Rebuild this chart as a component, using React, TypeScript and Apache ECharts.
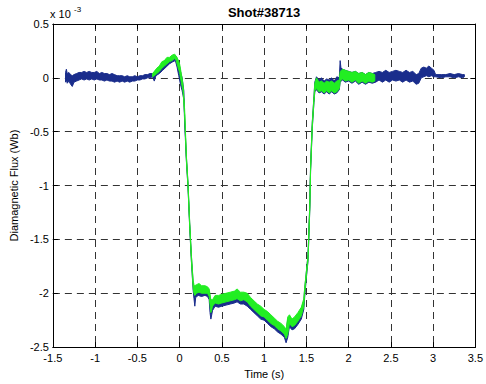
import React, { useEffect, useRef } from "react";
import * as echarts from "echarts";

// Time axis ticks (s)
const xTicks = [-1.5, -1, -0.5, 0, 0.5, 1, 1.5, 2, 2.5, 3, 3.5];
// Flux ticks (x 10^-3 Wb)
const yTicks = [-2.5, -2, -1.5, -1, -0.5, 0, 0.5];

// Blue trace: time, lower and upper edge of the noisy band (x 10^-3 Wb)
const blueT = [-1.35, -1.34, -1.33, -1.31, -1.29, -1.27, -1.25, -1.22, -1.19, -1.16, -1.13, -1.1, -1.07, -1.04, -1.01, -0.98, -0.95, -0.92, -0.89, -0.86, -0.83, -0.8, -0.77, -0.74, -0.71, -0.68, -0.65, -0.62, -0.59, -0.56, -0.53, -0.5, -0.47, -0.44, -0.41, -0.38, -0.35, -0.32, -0.3, -0.28, -0.24, -0.2, -0.16, -0.12, -0.08, -0.05, -0.03, -0.01, 0.01, 0.03, 0.05, 0.06, 0.08, 0.1, 0.12, 0.14, 0.16, 0.17, 0.18, 0.19, 0.22, 0.26, 0.3, 0.33, 0.35, 0.36, 0.37, 0.39, 0.42, 0.46, 0.5, 0.55, 0.6, 0.65, 0.68, 0.72, 0.76, 0.8, 0.84, 0.88, 0.92, 0.96, 1.0, 1.04, 1.08, 1.12, 1.16, 1.2, 1.24, 1.26, 1.28, 1.3, 1.33, 1.36, 1.4, 1.44, 1.47, 1.48, 1.5, 1.52, 1.54, 1.55, 1.57, 1.59, 1.6, 1.62, 1.65, 1.68, 1.71, 1.74, 1.77, 1.8, 1.83, 1.86, 1.89, 1.9, 1.91, 1.93, 1.96, 2.0, 2.04, 2.08, 2.12, 2.16, 2.2, 2.24, 2.28, 2.32, 2.36, 2.4, 2.44, 2.48, 2.52, 2.56, 2.6, 2.64, 2.68, 2.72, 2.76, 2.8, 2.83, 2.86, 2.89, 2.92, 2.95, 2.98, 3.01, 3.03, 3.1, 3.15, 3.2, 3.25, 3.3, 3.35, 3.37];
const blueLo = [-0.04, -0.02, -0.05, -0.03, -0.06, -0.08, -0.04, -0.03, -0.02, -0.01, -0.02, -0.01, -0.02, -0.01, -0.02, -0.01, -0.02, -0.02, -0.03, -0.02, -0.03, -0.03, -0.04, -0.03, -0.04, -0.03, -0.04, -0.03, -0.04, -0.03, -0.03, -0.02, -0.02, -0.01, -0.01, 0.0, 0.0, 0.01, -0.03, 0.02, 0.04, 0.07, 0.1, 0.13, 0.15, 0.16, 0.1, 0.02, -0.06, -0.12, -0.2, -0.42, -0.77, -1.03, -1.4, -1.71, -1.97, -2.05, -2.12, -2.04, -2.02, -2.03, -2.02, -2.03, -2.06, -2.18, -2.24, -2.16, -2.12, -2.13, -2.12, -2.11, -2.1, -2.09, -2.08, -2.1, -2.1, -2.12, -2.15, -2.18, -2.21, -2.24, -2.25, -2.28, -2.31, -2.33, -2.36, -2.38, -2.41, -2.46, -2.41, -2.31, -2.34, -2.33, -2.29, -2.24, -2.15, -2.04, -1.86, -1.7, -1.24, -0.87, -0.47, -0.23, -0.13, -0.11, -0.14, -0.13, -0.15, -0.13, -0.15, -0.13, -0.15, -0.14, -0.11, -0.04, -0.03, -0.02, -0.04, -0.03, -0.05, -0.03, -0.06, -0.04, -0.06, -0.04, -0.05, -0.04, -0.02, -0.04, -0.02, -0.04, -0.02, -0.03, -0.02, -0.04, -0.02, -0.04, -0.03, -0.06, -0.05, 0.0, 0.01, 0.02, 0.01, 0.02, 0.01, 0.01, 0.0, 0.01, 0.01, 0.0, 0.01, 0.0, 0.01];
const blueHi = [0.05, 0.08, 0.04, 0.05, 0.03, 0.02, 0.03, 0.04, 0.05, 0.05, 0.06, 0.05, 0.06, 0.05, 0.05, 0.06, 0.04, 0.05, 0.04, 0.04, 0.03, 0.04, 0.03, 0.02, 0.02, 0.02, 0.01, 0.02, 0.01, 0.01, 0.02, 0.01, 0.02, 0.02, 0.03, 0.03, 0.04, 0.04, 0.05, 0.07, 0.1, 0.14, 0.17, 0.18, 0.2, 0.21, 0.18, 0.15, 0.06, 0.0, -0.12, -0.38, -0.73, -0.99, -1.36, -1.66, -1.9, -1.94, -1.97, -1.95, -1.94, -1.95, -1.95, -1.96, -1.98, -2.04, -2.08, -2.08, -2.04, -2.04, -2.03, -2.02, -2.01, -2.0, -1.98, -2.01, -2.0, -2.02, -2.06, -2.09, -2.12, -2.15, -2.17, -2.19, -2.22, -2.25, -2.28, -2.3, -2.33, -2.36, -2.24, -2.22, -2.25, -2.24, -2.2, -2.15, -2.07, -1.96, -1.8, -1.64, -1.18, -0.81, -0.41, -0.17, -0.04, 0.01, -0.02, 0.0, -0.03, -0.01, -0.02, 0.0, -0.03, 0.01, 0.0, 0.16, 0.09, 0.08, 0.07, 0.06, 0.05, 0.06, 0.04, 0.05, 0.03, 0.05, 0.04, 0.05, 0.06, 0.05, 0.07, 0.05, 0.06, 0.07, 0.06, 0.05, 0.07, 0.05, 0.06, 0.03, 0.04, 0.09, 0.1, 0.09, 0.11, 0.09, 0.07, 0.03, 0.03, 0.03, 0.04, 0.03, 0.04, 0.03, 0.03];

// Green trace: time, lower and upper edge of the noisy band (x 10^-3 Wb)
const greenT = [-0.32, -0.3, -0.27, -0.24, -0.21, -0.18, -0.15, -0.12, -0.09, -0.06, -0.04, -0.03, 0.0, 0.02, 0.04, 0.06, 0.08, 0.1, 0.12, 0.14, 0.16, 0.17, 0.18, 0.2, 0.23, 0.26, 0.3, 0.33, 0.35, 0.37, 0.39, 0.42, 0.46, 0.5, 0.55, 0.6, 0.65, 0.68, 0.72, 0.76, 0.8, 0.84, 0.88, 0.92, 0.96, 1.0, 1.04, 1.08, 1.12, 1.16, 1.2, 1.24, 1.26, 1.28, 1.3, 1.33, 1.36, 1.4, 1.44, 1.47, 1.48, 1.5, 1.52, 1.54, 1.55, 1.57, 1.59, 1.6, 1.62, 1.65, 1.68, 1.71, 1.74, 1.77, 1.8, 1.83, 1.86, 1.89, 1.9, 1.93, 1.96, 2.0, 2.04, 2.08, 2.12, 2.16, 2.2, 2.24, 2.28, 2.31];
const greenLo = [0.01, 0.02, 0.04, 0.06, 0.09, 0.11, 0.13, 0.15, 0.16, 0.18, 0.16, 0.13, 0.05, -0.04, -0.12, -0.35, -0.76, -1.02, -1.39, -1.7, -1.95, -2.0, -2.02, -2.0, -1.99, -2.0, -2.0, -2.0, -2.03, -2.18, -2.12, -2.09, -2.1, -2.09, -2.08, -2.07, -2.06, -2.05, -2.07, -2.06, -2.08, -2.12, -2.15, -2.18, -2.21, -2.22, -2.25, -2.28, -2.3, -2.33, -2.35, -2.38, -2.42, -2.38, -2.28, -2.31, -2.3, -2.26, -2.21, -2.12, -2.01, -1.84, -1.69, -1.23, -0.86, -0.46, -0.22, -0.12, -0.1, -0.13, -0.12, -0.14, -0.12, -0.14, -0.12, -0.14, -0.13, -0.1, -0.03, -0.01, -0.03, -0.02, -0.04, -0.02, -0.05, -0.03, -0.05, -0.03, -0.04, -0.03];
const greenHi = [0.04, 0.06, 0.09, 0.11, 0.15, 0.16, 0.19, 0.19, 0.21, 0.22, 0.2, 0.19, 0.13, 0.04, -0.06, -0.3, -0.72, -0.98, -1.35, -1.65, -1.88, -1.92, -1.93, -1.92, -1.91, -1.93, -1.93, -1.94, -1.96, -2.06, -2.06, -2.02, -2.02, -2.01, -2.0, -1.99, -1.98, -1.96, -1.99, -1.99, -2.0, -2.04, -2.07, -2.1, -2.12, -2.15, -2.17, -2.2, -2.23, -2.26, -2.28, -2.31, -2.34, -2.22, -2.2, -2.24, -2.22, -2.18, -2.13, -2.05, -1.95, -1.8, -1.65, -1.19, -0.82, -0.42, -0.18, -0.05, 0.0, -0.04, -0.03, -0.05, -0.03, -0.04, -0.03, -0.05, -0.03, -0.02, 0.06, 0.08, 0.07, 0.06, 0.05, 0.06, 0.04, 0.05, 0.03, 0.05, 0.04, 0.03];

const FONT = "Liberation Sans, Arial, Helvetica, sans-serif";
const BLUE = "#1a2d8c";
const GREEN = "#22ee22";

function bandRenderer(T: number[], Lo: number[], Hi: number[], color: string) {
  return (params: any, api: any) => {
    const pts: number[][] = [];
    for (let i = 0; i < T.length; i++) pts.push(api.coord([T[i], Hi[i]]));
    for (let i = T.length - 1; i >= 0; i--) pts.push(api.coord([T[i], Lo[i]]));
    return {
      type: "polygon",
      shape: { points: pts },
      style: { fill: color, stroke: color, lineWidth: 1 },
    };
  };
}

export default function App() {
  const ref = useRef<HTMLDivElement>(null);
  useEffect(() => {
    if (!ref.current) return;
    const chart = echarts.init(ref.current, null, { renderer: "svg" });
    const gridDash = { show: true, lineStyle: { color: "#333", width: 1, type: [7, 5] as any } };
    const baseX = {
      type: "value" as const,
      min: xTicks[0],
      max: xTicks[xTicks.length - 1],
      interval: 0.5,
    };
    const baseY = {
      type: "value" as const,
      min: yTicks[0],
      max: yTicks[yTicks.length - 1],
      interval: 0.5,
    };
    chart.setOption({
      animation: false,
      backgroundColor: "#ffffff",
      textStyle: { fontFamily: FONT },
      grid: { left: 50, right: 7, top: 24, bottom: 34, containLabel: false },
      graphic: [
        {
          type: "text",
          x: 264,
          y: 12,
          style: {
            text: "Shot#38713",
            font: `bold 13px ${FONT}`,
            fill: "#000",
            textAlign: "center",
            textVerticalAlign: "middle",
          },
        },
        {
          type: "text",
          x: 50,
          y: 14,
          style: {
            text: "x 10",
            font: `11px ${FONT}`,
            fill: "#000",
            textAlign: "left",
            textVerticalAlign: "middle",
          },
        },
        {
          type: "text",
          x: 74,
          y: 9,
          style: {
            text: "-3",
            font: `8px ${FONT}`,
            fill: "#000",
            textAlign: "left",
            textVerticalAlign: "middle",
          },
        },
      ],
      xAxis: [
        {
          ...baseX,
          position: "bottom",
          name: "Time (s)",
          nameLocation: "middle",
          nameGap: 18,
          nameTextStyle: { fontSize: 11, color: "#000", fontFamily: FONT },
          axisLine: { show: true, onZero: false, lineStyle: { color: "#000", width: 1 } },
          axisTick: { show: true, inside: true, length: 5, lineStyle: { color: "#000" } },
          axisLabel: {
            show: true,
            fontSize: 11,
            color: "#000",
            fontFamily: FONT,
            margin: 5,
            showMinLabel: true,
            showMaxLabel: true,
          },
          splitLine: gridDash,
        },
        {
          ...baseX,
          position: "top",
          axisLine: { show: true, onZero: false, lineStyle: { color: "#000", width: 1 } },
          axisTick: { show: true, inside: true, length: 5, lineStyle: { color: "#000" } },
          axisLabel: { show: false },
          splitLine: { show: false },
        },
      ],
      yAxis: [
        {
          ...baseY,
          position: "left",
          name: "Diamagnetic Flux (Wb)",
          nameLocation: "middle",
          nameGap: 33,
          nameTextStyle: { fontSize: 11, color: "#000", fontFamily: FONT },
          axisLine: { show: true, onZero: false, lineStyle: { color: "#000", width: 1 } },
          axisTick: { show: true, inside: true, length: 5, lineStyle: { color: "#000" } },
          axisLabel: {
            show: true,
            fontSize: 11,
            color: "#000",
            fontFamily: FONT,
            margin: 4,
            showMinLabel: true,
            showMaxLabel: true,
          },
          splitLine: gridDash,
        },
        {
          ...baseY,
          position: "right",
          axisLine: { show: true, onZero: false, lineStyle: { color: "#000", width: 1 } },
          axisTick: { show: true, inside: true, length: 5, lineStyle: { color: "#000" } },
          axisLabel: { show: false },
          splitLine: { show: false },
        },
      ],
      series: [
        {
          type: "custom",
          name: "blue",
          xAxisIndex: 0,
          yAxisIndex: 0,
          clip: true,
          silent: true,
          renderItem: bandRenderer(blueT, blueLo, blueHi, BLUE),
          data: [[blueT[0], blueLo[0]]],
          z: 3,
        },
        {
          type: "custom",
          name: "green",
          xAxisIndex: 0,
          yAxisIndex: 0,
          clip: true,
          silent: true,
          renderItem: bandRenderer(greenT, greenLo, greenHi, GREEN),
          data: [[greenT[0], greenLo[0]]],
          z: 4,
        },
      ],
    });
    return () => chart.dispose();
  }, []);
  return (
    <div
      ref={ref}
      style={{ position: "fixed", left: 0, top: 0, width: 486, height: 384, background: "#fff" }}
    />
  );
}
